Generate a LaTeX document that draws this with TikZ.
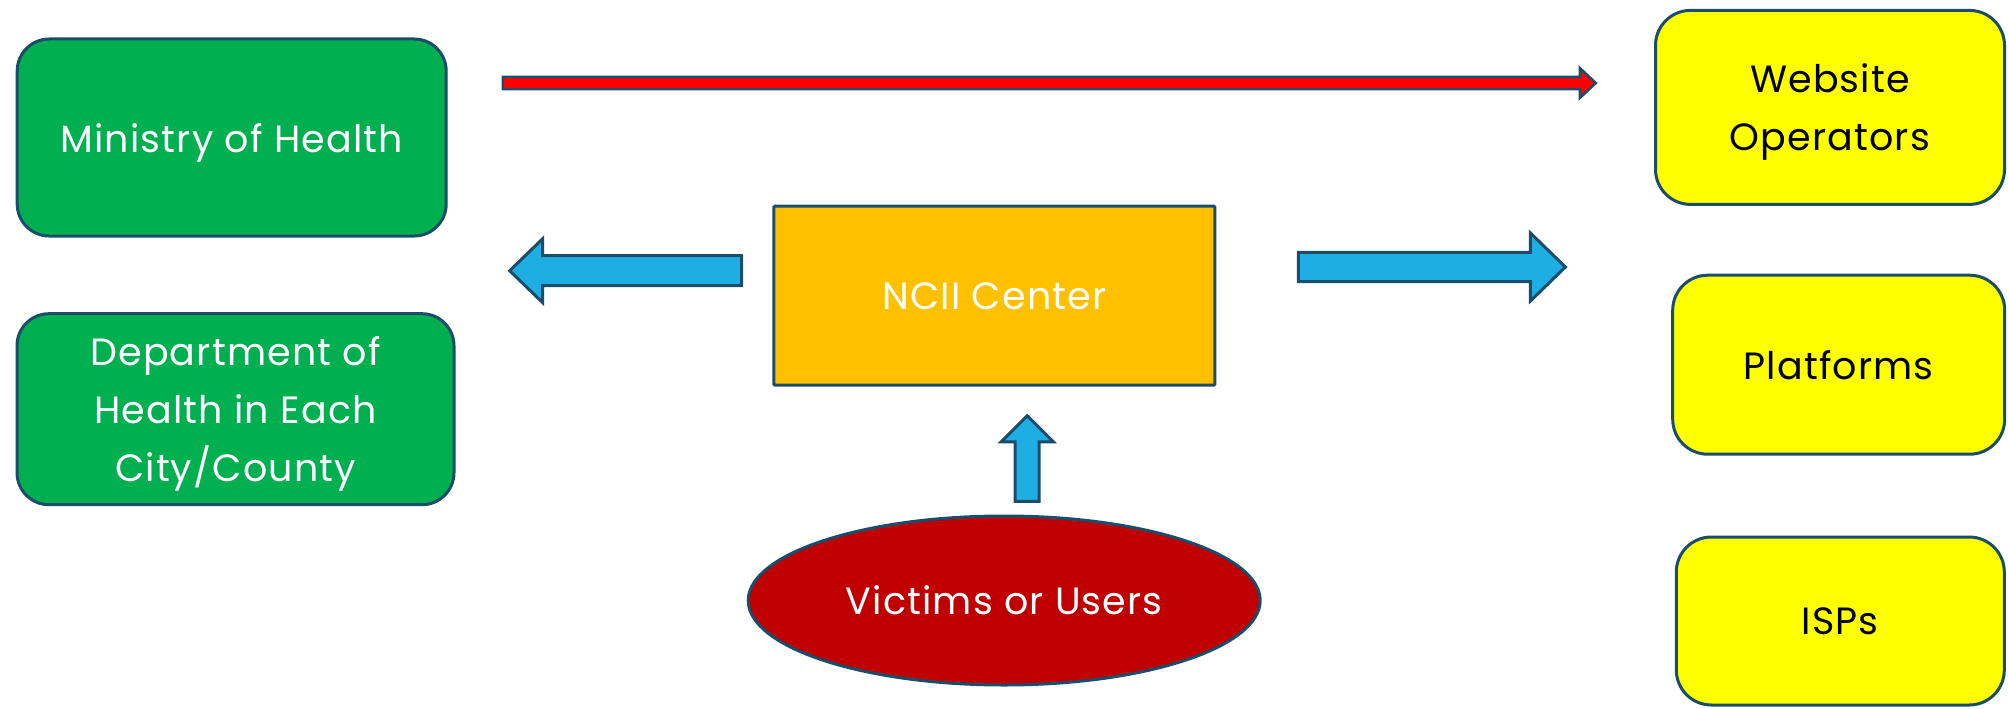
\documentclass[tikz,border=0pt]{standalone}
\usepackage{fontspec}
\setmainfont{Poppins}[LetterSpace=3]
\usetikzlibrary{calc}
\usetikzlibrary{shapes.geometric}
\definecolor{mohgreen}{HTML}{00B050}
\definecolor{opyellow}{HTML}{FFFF00}
\definecolor{nciiorange}{HTML}{FFC000}
\definecolor{victimred}{HTML}{C00000}
\definecolor{flowblue}{HTML}{1FAEE3}
\definecolor{edgeblue}{HTML}{1A4D6A}

% block arrow: style, from, to, shaft half width, head half width, head length
\newcommand\blkarrow[6]{%
 \coordinate (bah) at ($(#3)!#6!(#2)$);
 \draw[#1] ($(#2)!#4!90:(#3)$) -- ($(bah)!#4!90:(#3)$) -- ($(bah)!#5!90:(#3)$) -- (#3)
  -- ($(bah)!#5!-90:(#3)$) -- ($(bah)!#4!-90:(#3)$) -- ($(#2)!#4!-90:(#3)$) -- cycle;}

\begin{document}
\begin{tikzpicture}[x=1pt,y=-1pt,
 box/.style={draw=edgeblue, line width=3pt, inner sep=0pt, align=center, text depth=0pt, font=\fontsize{38}{58}\selectfont},
 greenbox/.style={box, fill=mohgreen, text=white, rounded corners=32pt},
 yellowbox/.style={box, fill=opyellow, text=black, rounded corners=35pt},
 bluearrow/.style={draw=edgeblue, line width=3pt, fill=flowblue},
 redarrow/.style={draw=edgeblue, line width=2.5pt, fill=red}]
\useasboundingbox (0,0) rectangle (2008,709);

% left column
\node[greenbox, minimum width=429pt, minimum height=197pt] (moh) at (231.7,137.5) {Ministry of Health};
\node[greenbox, minimum width=437pt, minimum height=191pt] (dept) at (235.5,409.2) {Department of\\Health in Each\\City/County};

% centre
\node[box, fill=nciiorange, text=white, rounded corners=1pt, minimum width=441pt, minimum height=179pt] (ncii) at (994.4,295.7) {NCII Center};
\node[box, ellipse, fill=victimred, text=white, minimum width=512pt, minimum height=169pt] (victims) at (1004.2,600.5) {Victims or Users};

% right column
\node[yellowbox, minimum width=349pt, minimum height=194pt] (web) at (1830,107.4) {Website\\Operators};
\node[yellowbox, minimum width=332pt, minimum height=179pt] (plat) at (1838.7,364.7) {Platforms};
\node[yellowbox, minimum width=328pt, minimum height=168pt] (isp) at (1840.3,621) {ISPs};

% arrows
\coordinate (redA) at (502.8,83);   \coordinate (redB) at (1595.8,83);
\coordinate (leftA) at (741.7,270.7); \coordinate (leftB) at (509.7,270.7);
\coordinate (rightA) at (1298.4,267); \coordinate (rightB) at (1565.4,267);
\coordinate (upA) at (1027.2,501.3);  \coordinate (upB) at (1027.2,415.8);
\blkarrow{redarrow}{redA}{redB}{6pt}{15pt}{16pt}
\blkarrow{bluearrow}{leftA}{leftB}{15pt}{32pt}{33pt}
\blkarrow{bluearrow}{rightA}{rightB}{14.7pt}{34pt}{35pt}
\blkarrow{bluearrow}{upA}{upB}{12pt}{26pt}{26pt}
\end{tikzpicture}
\end{document}
